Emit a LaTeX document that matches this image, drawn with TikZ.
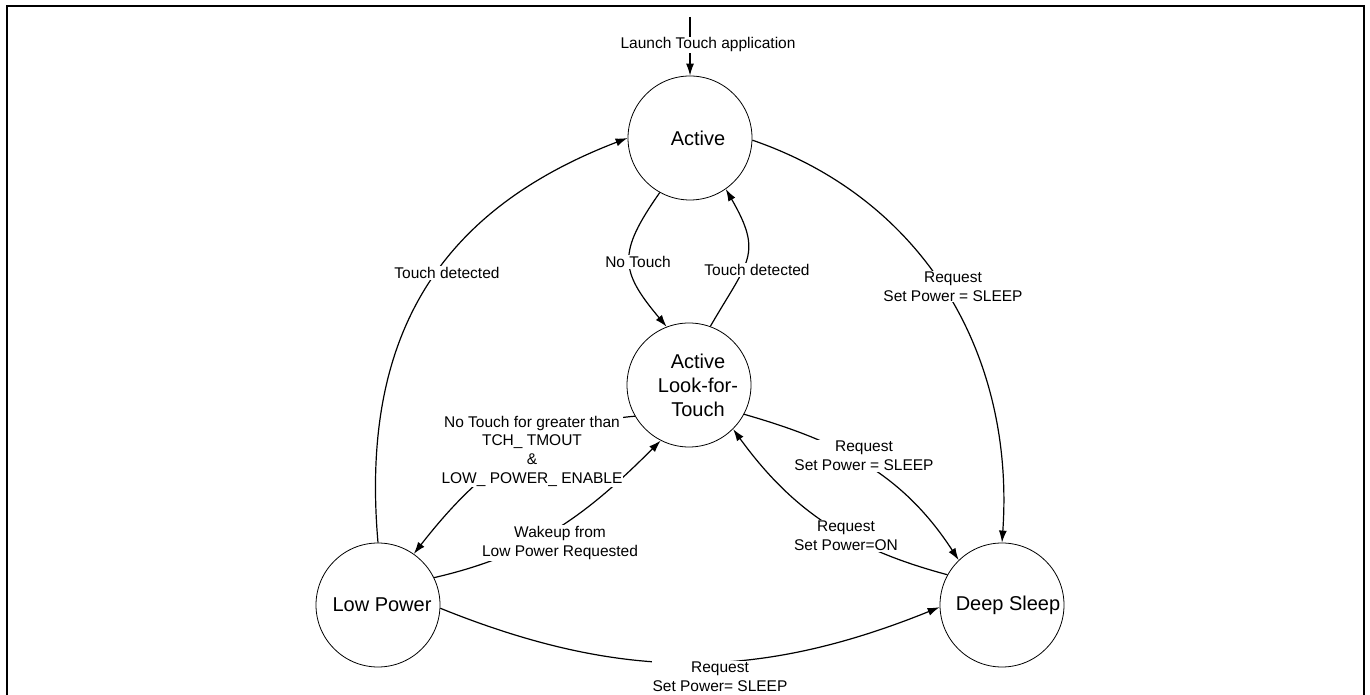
\documentclass[tikz,border=0pt]{standalone}
\usepackage{fontspec}
\setmainfont{Liberation Sans}
\usetikzlibrary{arrows.meta}
\begin{document}
\begin{tikzpicture}[x=1pt,y=1pt,
  state/.style={circle, draw, line width=0.8pt, minimum size=124pt, inner sep=0pt},
  stxt/.style={font=\fontsize{20}{24}\selectfont, align=center, inner sep=0pt},
  edge/.style={line width=1.2pt, -{Latex[length=12pt,width=8pt]}},
  lbl/.style={fill=white, inner sep=1pt, align=center, font=\fontsize{15.5}{18.7}\selectfont},
  frameline/.style={line width=2.3pt}]
\useasboundingbox (0,0) rectangle (1370,695);
\draw[frameline] (7.3,0) -- (7.3,689) -- (1364,689) -- (1364,0);

\node[state, label={[stxt, xshift=8pt]center:Active}] (A) at (690,557) {};
\node[state, label={[stxt, xshift=9pt]center:Active\\Look-for-\\Touch}] (L) at (689,310) {};
\node[state, label={[stxt, xshift=4pt]center:Low Power}] (P) at (378,90) {};
\node[state, label={[stxt, xshift=6pt]center:Deep Sleep}] (D) at (1002,90) {};

\coordinate (init) at (690,678);
\draw[edge] (init) -- (A.north);

\draw[edge] (P.90) to[out=95,in=201,looseness=1.1] (A.180);
\draw[edge] (A.241) to[out=235,in=130,looseness=1.4] (L.111);
\draw[edge] (L.70) to[out=60,in=300,looseness=1.4] (A.305);
\draw[edge] (A.358) to[out=-19,in=86] (D.90);
\draw[edge] (L.332) to[out=-16,in=123] (D.134);
\draw[edge] (D.151) to[out=165,in=-54] (L.315);
\draw[edge] (L.210) to[out=185,in=52] (P.55);
\draw[edge] (P.26) to[out=13,in=225] (L.243);
\draw[edge] (P.357) to[out=-22,in=202] (D.182);

\node[lbl] (launch) at (708,650) {Launch Touch application};
\node[lbl] (td1) at (447,422) {Touch detected};
\node[lbl] (nt) at (638,433) {No Touch};
\node[lbl] (td2) at (757,425) {Touch detected};
\node[lbl] (r1) at (953,408.5) {Request\\Set Power = SLEEP};
\node[lbl] (r2) at (864,239) {Request\\Set Power = SLEEP};
\node[lbl] (r3) at (846,159) {Request\\Set Power=ON};
\node[lbl] (nt2) at (532,244) {No Touch for greater than\\TCH\_ TMOUT\\\&\\LOW\_ POWER\_ ENABLE};
\node[lbl] (wk) at (560,152) {Wakeup from\\Low Power Requested};
\node[lbl] (r4) at (720,18) {Request\\Set Power= SLEEP};
\end{tikzpicture}
\end{document}
